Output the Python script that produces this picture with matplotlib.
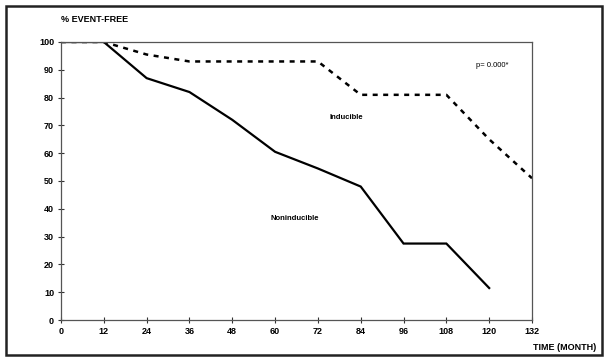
import matplotlib
matplotlib.use("Agg")
import matplotlib.pyplot as plt
from matplotlib.patches import Rectangle

# --- data ---
months = [0, 12, 24, 36, 48, 60, 72, 84, 96, 108, 120, 132]
noninducible = [100, 100, 87, 82, 72, 60.5, 54.5, 48, 27.5, 27.5, 11.5]
inducible = [100, 100, 95.5, 93, 93, 93, 93, 81, 81, 81, 65, 51]
y_ticks = [0, 10, 20, 30, 40, 50, 60, 70, 80, 90, 100]

plt.rcParams['font.family'] = ['Liberation Sans', 'DejaVu Sans']

fig = plt.figure(figsize=(6.07, 3.6), dpi=100)
ax = fig.add_axes([61 / 607, 1 - 320 / 360, 471 / 607, 278 / 360])

# outer frame round the whole picture
fig.patches.append(Rectangle((6 / 607, 5 / 360), 596 / 607, 349 / 360,
                             transform=fig.transFigure, fill=False,
                             edgecolor='#222222', linewidth=1.8))

ax.plot(months[:len(noninducible)], noninducible, color='black', linewidth=1.6,
        solid_joinstyle='miter')
ax.plot(months, inducible, color='black', linewidth=1.8, linestyle=(0, (2, 2.2)))

ax.set_xlim(0, 132)
ax.set_ylim(0, 100)
ax.set_xticks(months)
ax.set_yticks(y_ticks)
ax.tick_params(direction='inout', length=4, width=0.8, labelsize=6.5, pad=3, colors='#333333')
for lbl in ax.get_xticklabels() + ax.get_yticklabels():
    lbl.set_fontweight('bold')
    lbl.set_color('black')
for side in ['left', 'bottom', 'top', 'right']:
    ax.spines[side].set_color('#555555')
    ax.spines[side].set_linewidth(0.9)

fig.text(61 / 607, 1 - 20 / 360, '% EVENT-FREE', fontsize=6.5, fontweight='bold', va='center')
fig.text(565 / 607, 1 - 348 / 360, 'TIME (MONTH)', fontsize=6.5, fontweight='bold',
         ha='center', va='center')
ax.text(121, 91.5, 'p= 0.000*', fontsize=5.5, ha='center', va='center')
ax.text(80, 73, 'Inducible', fontsize=5.5, fontweight='bold', ha='center', va='center')
ax.text(65.5, 36.5, 'Noninducible', fontsize=5.5, fontweight='bold', ha='center', va='center')

fig.savefig('out.png', dpi=100)
